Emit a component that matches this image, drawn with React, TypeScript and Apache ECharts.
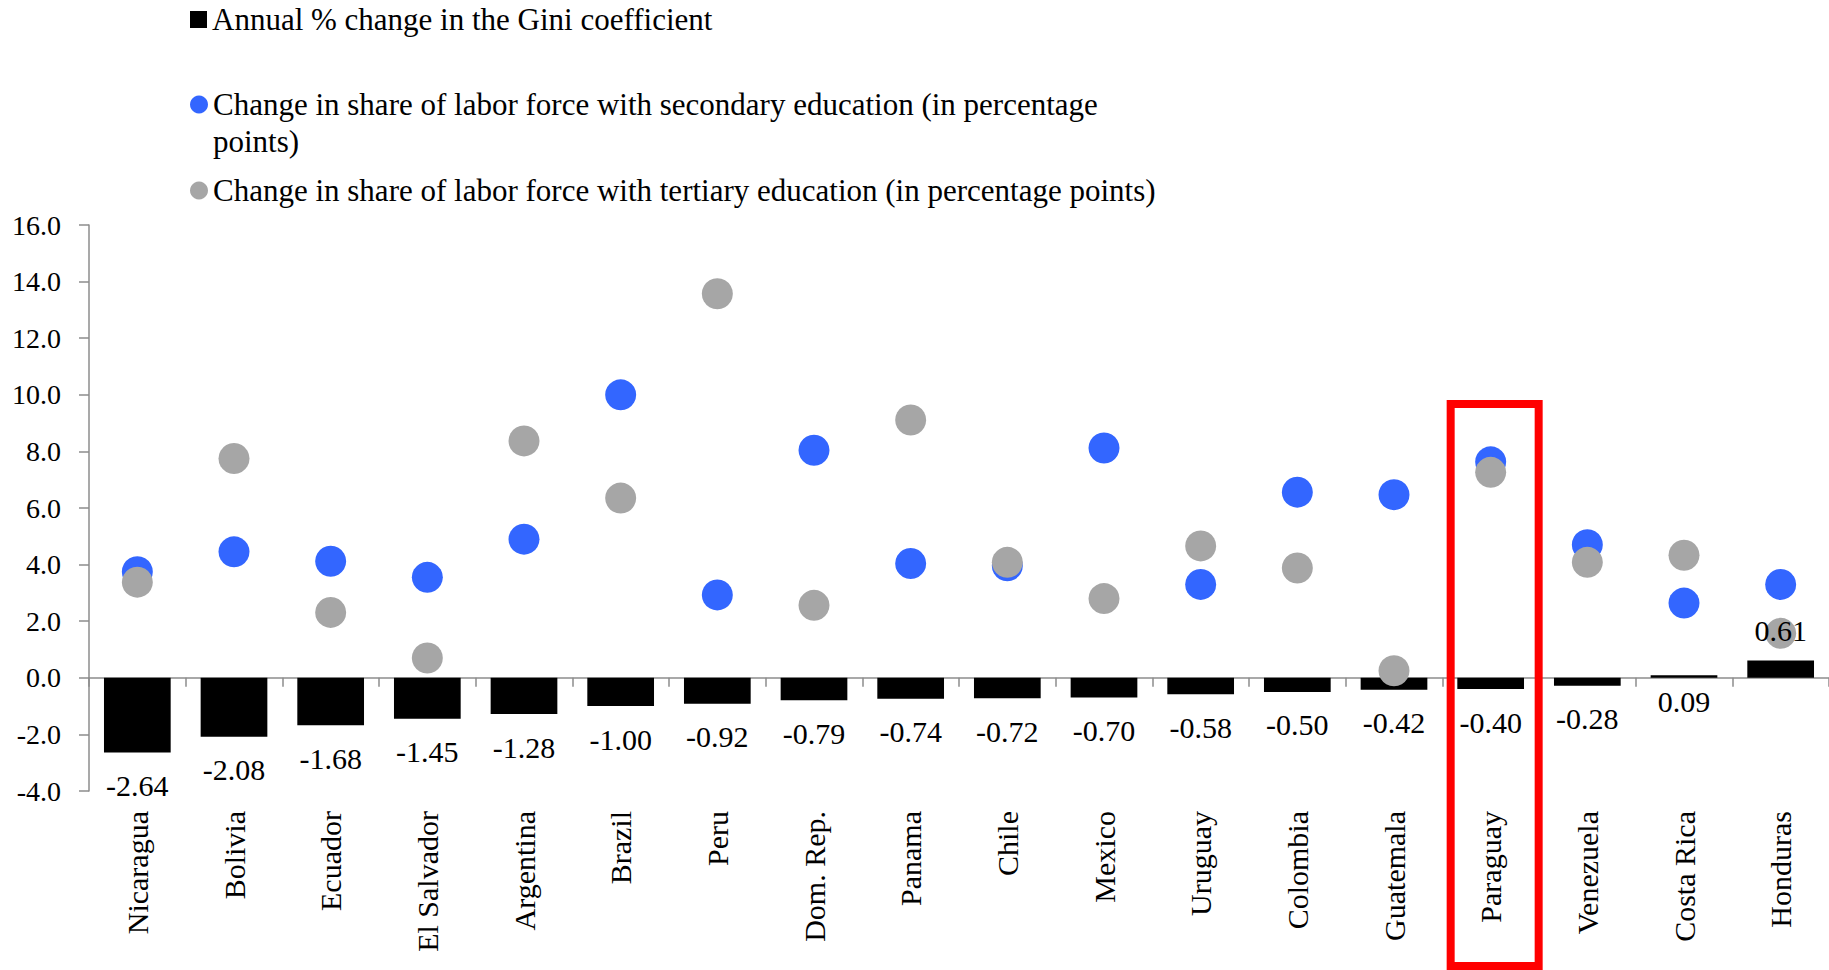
import React, { useEffect, useRef } from 'react';
import * as echarts from 'echarts';

const countries = [
  'Nicaragua', 'Bolivia', 'Ecuador', 'El Salvador', 'Argentina', 'Brazil',
  'Peru', 'Dom. Rep.', 'Panama', 'Chile', 'Mexico', 'Uruguay',
  'Colombia', 'Guatemala', 'Paraguay', 'Venezuela', 'Costa Rica', 'Honduras',
];

const giniChange = [
  -2.64, -2.08, -1.68, -1.45, -1.28, -1.0, -0.92, -0.79, -0.74,
  -0.72, -0.7, -0.58, -0.5, -0.42, -0.4, -0.28, 0.09, 0.61,
];

const secondaryChange = [
  3.75, 4.45, 4.12, 3.55, 4.9, 10.0, 2.93, 8.04, 4.04,
  3.96, 8.12, 3.3, 6.56, 6.47, 7.63, 4.7, 2.64, 3.3,
];

const tertiaryChange = [
  3.38, 7.75, 2.31, 0.7, 8.37, 6.35, 13.57, 2.56, 9.11,
  4.08, 2.8, 4.66, 3.88, 0.25, 7.26, 4.08, 4.33, 1.57,
];

const yMin = -4;
const yMax = 16;
const yStep = 2;

const highlighted = 'Paraguay';

const GINI = 'Annual % change in the Gini coefficient';
const SECONDARY = 'Change in share of labor force with secondary education (in percentage points)';
const TERTIARY = 'Change in share of labor force with tertiary education (in percentage points)';

const FONT = 'Liberation Serif';
const AXIS_GREY = '#8c8c8c';

export default function App() {
  const chartRef = useRef<HTMLDivElement>(null);

  useEffect(() => {
    if (!chartRef.current) return;
    const chart = echarts.init(chartRef.current, null, { renderer: 'svg' });

    const legendText = { fontFamily: FONT, fontSize: 31, color: '#000', lineHeight: 37 };

    const barLabel = (v: number, i: number) => {
      // only the last (Honduras) bar carries its value above
      const pos = v > 0 && i === giniChange.length - 1 ? 'top' : 'bottom';
      return { position: pos, distance: v > 0 ? (pos === 'top' ? 15 : 9) : 18 };
    };

    chart.setOption({
      animation: false,
      backgroundColor: '#fff',
      textStyle: { fontFamily: FONT },
      legend: [
        {
          data: [{ name: GINI, icon: 'rect' }],
          left: 190, top: 1, padding: 0,
          itemWidth: 17, itemHeight: 17,
          textStyle: legendText,
        },
        {
          data: [{ name: SECONDARY, icon: 'circle' }],
          left: 190, top: 49, padding: 0,
          itemWidth: 18, itemHeight: 18,
          // blank first line keeps the marker level with the first text line
          formatter: (n: string) => ' \n' + n.replace(/ points\)$/, '\npoints)'),
          textStyle: legendText,
        },
        {
          data: [{ name: TERTIARY, icon: 'circle' }],
          left: 190, top: 172, padding: 0,
          itemWidth: 18, itemHeight: 18,
          textStyle: legendText,
        },
      ],
      grid: { left: 89, right: 0, top: 225, bottom: 179, outerBoundsMode: 'none', containLabel: false },
      xAxis: {
        type: 'category',
        data: countries,
        axisLine: { onZero: true, lineStyle: { color: AXIS_GREY, width: 1.5 } },
        axisTick: { show: true, length: 9, lineStyle: { color: AXIS_GREY, width: 1.5 } },
        axisLabel: {
          rotate: 90,
          margin: 20,
          interval: 0,
          fontFamily: FONT,
          fontSize: 30,
          color: '#000',
        },
        splitLine: { show: false },
      },
      yAxis: {
        type: 'value',
        min: yMin,
        max: yMax,
        interval: yStep,
        axisLine: { show: true, lineStyle: { color: AXIS_GREY, width: 1.5 } },
        axisTick: { show: true, length: 10, lineStyle: { color: AXIS_GREY, width: 1.5 } },
        axisLabel: {
          margin: 28,
          fontFamily: FONT,
          fontSize: 28,
          color: '#000',
          formatter: (v: number) => v.toFixed(1),
        },
        splitLine: { show: false },
      },
      series: [
        {
          name: GINI,
          type: 'bar',
          barCategoryGap: '31%',
          itemStyle: { color: '#000' },
          data: giniChange,
          z: 2,
        },
        {
          name: SECONDARY,
          type: 'scatter',
          symbol: 'circle',
          symbolSize: 31,
          itemStyle: { color: '#3366ff', opacity: 1 },
          data: secondaryChange,
          z: 3,
        },
        {
          name: TERTIARY,
          type: 'scatter',
          symbol: 'circle',
          symbolSize: 31,
          itemStyle: { color: '#a6a6a6', opacity: 1 },
          data: tertiaryChange,
          z: 4,
        },
        {
          // same bars, invisible, only so the value labels sit above the dots
          name: 'gini-labels',
          type: 'bar',
          barCategoryGap: '31%',
          barGap: '-100%',
          itemStyle: { color: 'rgba(0,0,0,0)' },
          silent: true,
          data: giniChange.map((v, i) => ({ value: v, label: barLabel(v, i) })),
          label: {
            show: true,
            fontFamily: FONT,
            fontSize: 30,
            color: '#000',
            formatter: (p: any) => Number(p.value).toFixed(2),
          },
          z: 6,
        },
      ],
    });

    // red frame around the highlighted country, from its band on the category axis
    const cx = chart.convertToPixel({ xAxisIndex: 0 }, highlighted) as number;
    chart.setOption({
      graphic: [
        {
          type: 'rect',
          z: 10,
          shape: { x: cx - 40, y: 404, width: 88, height: 562 },
          style: { fill: 'none', stroke: '#ff0000', lineWidth: 8 },
        },
      ],
    });

    return () => {
      chart.dispose();
    };
  }, []);

  return (
    <div
      ref={chartRef}
      style={{ position: 'absolute', left: 0, top: 0, width: '1829px', height: '970px' }}
    ></div>
  );
}
